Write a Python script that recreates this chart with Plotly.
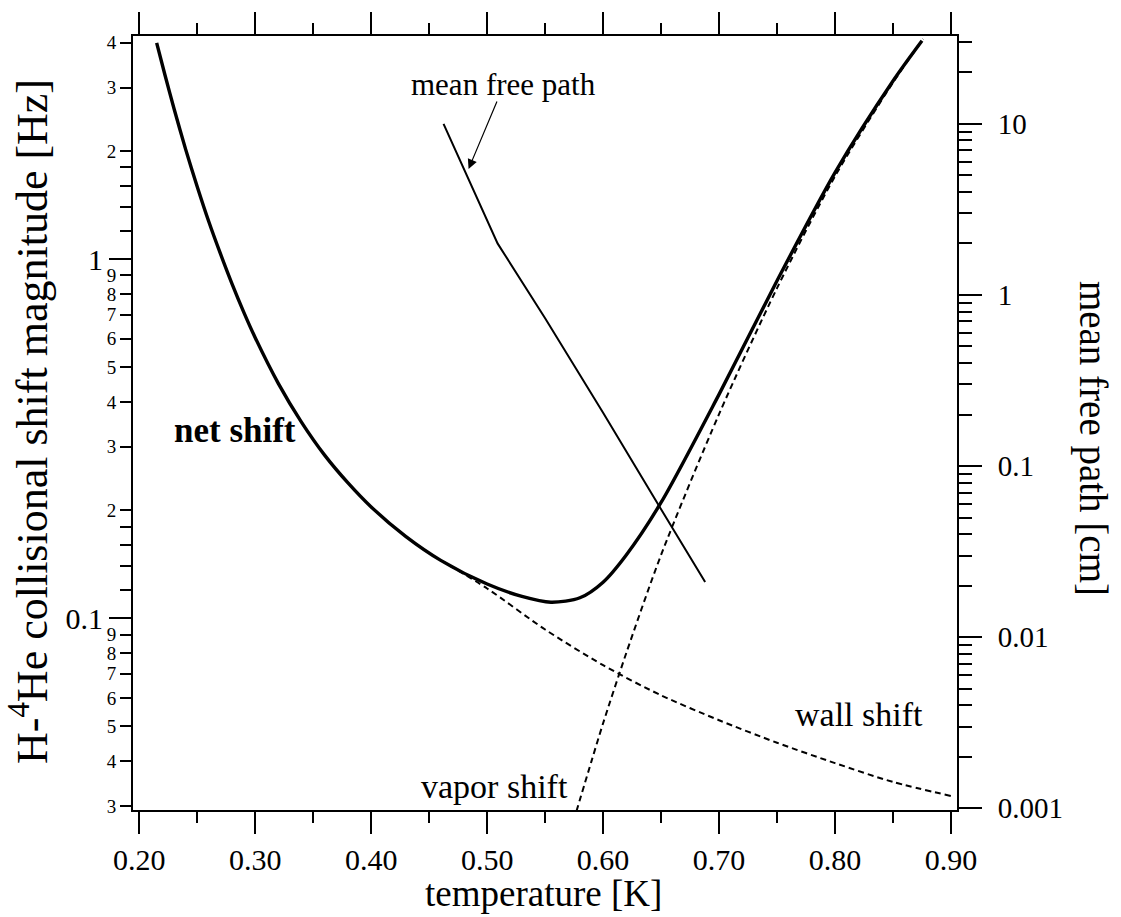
import plotly.graph_objects as go

# ---- data -------------------------------------------------------------
# net collisional shift magnitude [Hz] vs temperature [K]
net_T = [0.215, 0.222, 0.23, 0.24, 0.25, 0.26, 0.27, 0.28, 0.29, 0.30, 0.32,
         0.34, 0.36, 0.38, 0.40, 0.43, 0.46, 0.50, 0.53, 0.555, 0.58, 0.60,
         0.62, 0.65, 0.70, 0.75, 0.80, 0.85, 0.875]
net_shift = [4.0, 3.27, 2.62, 2.02, 1.59, 1.27, 1.035, 0.853, 0.713, 0.604, 0.450,
             0.351, 0.284, 0.238, 0.204, 0.1687, 0.1449, 0.1245, 0.115, 0.1108, 0.114, 0.126,
             0.150, 0.21, 0.42, 0.87, 1.74, 3.13, 4.05]

# wall contribution [Hz]
wall_T = [0.46, 0.50, 0.55, 0.60, 0.65, 0.70, 0.75, 0.80, 0.85, 0.90]
wall_shift = [0.145, 0.121, 0.093, 0.074, 0.061, 0.052, 0.045, 0.0395, 0.035, 0.032]

# vapor contribution [Hz]
vapor_T = [0.577, 0.59, 0.60, 0.62, 0.65, 0.70, 0.75, 0.80, 0.85, 0.876]
vapor_shift = [0.029, 0.040, 0.051, 0.080, 0.150, 0.37, 0.83, 1.7, 3.1, 4.1]

# mean free path [cm] (right axis)
mfp_T = [0.4624, 0.485, 0.509, 0.55, 0.60, 0.65, 0.688]
mfp_cm = [10.0, 4.55, 2.0, 0.73, 0.205, 0.056, 0.021]

# ---- axis tick definitions ---------------------------------------------
x_major = [0.20, 0.30, 0.40, 0.50, 0.60, 0.70, 0.80, 0.90]
x_major_text = ["0.20", "0.30", "0.40", "0.50", "0.60", "0.70", "0.80", "0.90"]
x_minor = [0.25, 0.35, 0.45, 0.55, 0.65, 0.75, 0.85]

left_decades = [0.1, 1]
left_decade_text = ["0.1", "1"]
left_digit_vals = [0.03, 0.04, 0.05, 0.06, 0.07, 0.08, 0.09,
                   0.2, 0.3, 0.4, 0.5, 0.6, 0.7, 0.8, 0.9,
                   2, 3, 4]
left_digit_text = ["3", "4", "5", "6", "7", "8", "9",
                   "2", "3", "4", "5", "6", "7", "8", "9",
                   "2", "3", "4"]
left_unlabelled = [0.12, 0.14, 0.16, 0.18, 1.2, 1.4, 1.6, 1.8]

right_major = [0.001, 0.01, 0.1, 1, 10]
right_major_text = ["0.001", "0.01", "0.1", "1", "10"]
right_minor = [m * d for d in [0.001, 0.01, 0.1, 1] for m in range(2, 10)] + [20, 30]

FONT = "Liberation Serif"
BLACK = "black"

fig = go.Figure()

fig.add_trace(go.Scatter(
    x=wall_T, y=wall_shift, mode="lines", yaxis="y",
    line=dict(color=BLACK, width=2, dash="6px,4px", shape="spline", smoothing=0.8),
    showlegend=False, hoverinfo="skip"))
fig.add_trace(go.Scatter(
    x=vapor_T, y=vapor_shift, mode="lines", yaxis="y",
    line=dict(color=BLACK, width=2, dash="6px,4px", shape="spline", smoothing=0.8),
    showlegend=False, hoverinfo="skip"))
fig.add_trace(go.Scatter(
    x=net_T, y=net_shift, mode="lines", yaxis="y",
    line=dict(color=BLACK, width=3.4, shape="spline", smoothing=0.8),
    showlegend=False, hoverinfo="skip"))
fig.add_trace(go.Scatter(
    x=mfp_T, y=mfp_cm, mode="lines", yaxis="y2",
    line=dict(color=BLACK, width=2),
    showlegend=False, hoverinfo="skip"))
# empty trace that makes the decade-label axis render
fig.add_trace(go.Scatter(x=[None], y=[None], yaxis="y3", showlegend=False,
                         hoverinfo="skip"))

x_range = [0.1946, 0.9052]
left_range = [-1.534, 0.621]
right_range = [-3.0098, 1.513]

fig.update_layout(
    width=1121, height=917,
    margin=dict(l=133, r=164, t=28, b=107),
    paper_bgcolor="white", plot_bgcolor="white",
    font=dict(family=FONT, color=BLACK),
    xaxis=dict(
        range=x_range, showgrid=False, zeroline=False,
        showline=True, linewidth=2, linecolor=BLACK, mirror="ticks",
        ticks="outside", ticklen=22, tickwidth=2, tickcolor=BLACK,
        tickvals=x_major, ticktext=x_major_text,
        tickfont=dict(family=FONT, size=30, color=BLACK),
        minor=dict(tickvals=x_minor, ticks="outside", ticklen=11,
                   tickwidth=2, tickcolor=BLACK, showgrid=False),
    ),
    yaxis=dict(
        type="log", range=left_range, showgrid=False, zeroline=False,
        showline=True, linewidth=2, linecolor=BLACK,
        ticks="outside", ticklen=11, tickwidth=2, tickcolor=BLACK,
        tickvals=left_digit_vals, ticktext=left_digit_text,
        tickfont=dict(family=FONT, size=19, color=BLACK),
        minor=dict(tickvals=left_unlabelled, ticks="outside", ticklen=11,
                   tickwidth=2, tickcolor=BLACK, showgrid=False),
    ),
    yaxis3=dict(
        type="log", range=left_range, overlaying="y", side="left", anchor="x",
        showgrid=False, zeroline=False, showline=False,
        ticks="outside", ticklen=23, tickwidth=2, tickcolor=BLACK,
        tickvals=left_decades, ticktext=left_decade_text,
        tickfont=dict(family=FONT, size=30, color=BLACK),
    ),
    yaxis2=dict(
        type="log", range=right_range, overlaying="y", side="right", anchor="x",
        showgrid=False, zeroline=False,
        showline=True, linewidth=2, linecolor=BLACK,
        ticks="outside", ticklen=23, tickwidth=2, tickcolor=BLACK,
        tickvals=right_major, ticktext=right_major_text,
        tickfont=dict(family=FONT, size=29, color=BLACK),
        ticklabelstandoff=10,
        minor=dict(tickvals=right_minor, ticks="outside", ticklen=13,
                   tickwidth=2, tickcolor=BLACK, showgrid=False),
    ),
)


def ann(text, x, y, size, **kw):
    fig.add_annotation(text=text, x=x, y=y, xref="paper", yref="paper",
                       xanchor=kw.pop("xanchor", "center"),
                       yanchor=kw.pop("yanchor", "middle"),
                       showarrow=False,
                       font=dict(family=FONT, size=size, color=BLACK), **kw)


# axis titles
ann("temperature [K]", 0.4976, -0.108, 37)
ann("H-<sup>4</sup>He collisional shift magnitude [Hz]", -0.1250, 0.5013, 44,
    textangle=-90)
ann("mean free path [cm]", 1.165, 0.4795, 39, textangle=90)

# curve labels
ann("<b>net shift</b>", 0.0473, 0.4902, 35, xanchor="left")
ann("wall shift", 0.8811, 0.1240, 34)
ann("vapor shift", 0.4393, 0.0298, 34)
ann("mean free path", 0.4502, 0.9377, 31)

# arrow pointing at the mean free path curve
fig.add_annotation(x=0.4840, y=0.7363, xref="x", yref="y2", text="",
                   showarrow=True, ax=29, ay=-69, axref="pixel", ayref="pixel",
                   arrowhead=2, arrowsize=1.6, arrowwidth=1.2, arrowcolor=BLACK)

fig.write_html("out.html")
